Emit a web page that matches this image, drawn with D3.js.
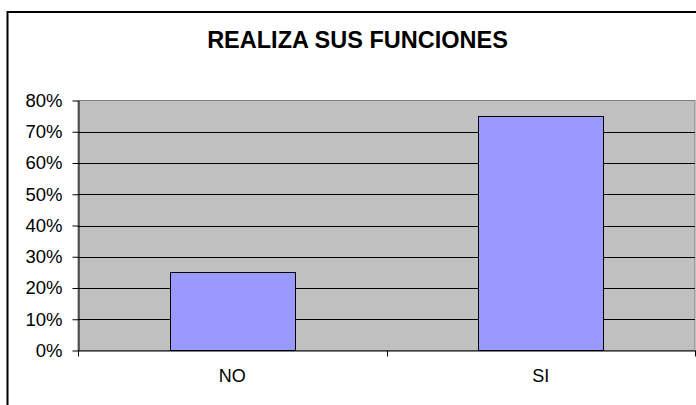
<!DOCTYPE html>
<html>
<head>
<meta charset="utf-8">
<script src="https://cdn.jsdelivr.net/npm/d3@7"></script>
<style>
  body { margin: 0; background: #fff; }
  svg { display: block; font-family: "Liberation Sans", Arial, sans-serif; }
</style>
</head>
<body>
<svg id="chart"></svg>
<script>
const categories = [ 'NO', 'SI' ];
const values = [ 0.25, 0.75 ];
const yticks = [ 0, 0.1, 0.2, 0.3, 0.4, 0.5, 0.6, 0.7, 0.8 ];
const title = 'REALIZA SUS FUNCIONES';

const width = 696, height = 405;
const margin = { top: 100.5, right: 1, bottom: 54.5, left: 78 };

const svg = d3.select( '#chart' )
    .attr( 'width', width )
    .attr( 'height', height );

// outer frame (runs off the right and bottom edges)
svg.append( 'rect' )
    .attr( 'x', 7.5 ).attr( 'y', 12 )
    .attr( 'width', width + 10 ).attr( 'height', height + 10 )
    .attr( 'fill', 'none' )
    .attr( 'stroke', '#000' )
    .attr( 'stroke-width', 2 );

svg.append( 'text' )
    .attr( 'x', 357.5 ).attr( 'y', 48 )
    .attr( 'text-anchor', 'middle' )
    .attr( 'font-size', 23.5 )
    .attr( 'font-weight', 'bold' )
    .text( title );

const x0 = margin.left, x1 = width - margin.right;
const y0 = height - margin.bottom, y1 = margin.top;

const xscale = d3.scaleBand()
    .domain( categories )
    .range( [ x0, x1 ] )
    .paddingInner( 0.595 )
    .paddingOuter( 0.2975 );

const yscale = d3.scaleLinear()
    .domain( [ 0, 0.8 ] )
    .range( [ y0, y1 ] );

// plot area
svg.append( 'rect' )
    .attr( 'x', x0 ).attr( 'y', y1 )
    .attr( 'width', x1 - x0 ).attr( 'height', y0 - y1 )
    .attr( 'fill', '#c0c0c0' )
    .attr( 'stroke', '#808080' )
    .attr( 'stroke-width', 1 );

// gridlines
svg.append( 'g' )
    .selectAll( 'line' )
    .data( yticks.filter( d => d > 0 && d < 0.8 ) )
    .join( 'line' )
    .attr( 'x1', x0 ).attr( 'x2', x1 )
    .attr( 'y1', d => Math.round( yscale( d ) ) + 0.5 )
    .attr( 'y2', d => Math.round( yscale( d ) ) + 0.5 )
    .attr( 'stroke', '#000' );

// bars
svg.append( 'g' )
    .selectAll( 'rect' )
    .data( categories )
    .join( 'rect' )
    .attr( 'x', d => Math.round( xscale( d ) ) + 0.5 )
    .attr( 'y', ( d, i ) => Math.round( yscale( values[i] ) ) + 0.5 )
    .attr( 'width', Math.round( xscale.bandwidth() ) )
    .attr( 'height', ( d, i ) => y0 - ( Math.round( yscale( values[i] ) ) + 0.5 ) )
    .attr( 'fill', '#9999ff' )
    .attr( 'stroke', '#000' )
    .attr( 'stroke-width', 1 );

// y axis
const yaxis = d3.axisLeft( yscale )
    .tickValues( yticks )
    .tickFormat( d3.format( '.0%' ) )
    .tickSize( 6 )
    .tickSizeOuter( 0 )
    .tickPadding( 10 );

const yg = svg.append( 'g' )
    .attr( 'transform', `translate(${x0 + 0.5}, 0)` )
    .call( yaxis );
yg.select( '.domain' ).attr( 'stroke', '#000' );
yg.selectAll( 'text' )
    .attr( 'font-size', 18.5 )
    .attr( 'font-family', '"Liberation Sans", Arial, sans-serif' )
    .attr( 'fill', '#000' );

// x axis: labels at band centres, ticks at band edges
const xaxis = d3.axisBottom( xscale )
    .tickSize( 0 )
    .tickSizeOuter( 0 )
    .tickPadding( 19 );

const xg = svg.append( 'g' )
    .attr( 'transform', `translate(0, ${y0})` )
    .call( xaxis );
xg.select( '.domain' )
    .attr( 'stroke', '#000' );
xg.selectAll( 'text' )
    .attr( 'font-size', 18 )
    .attr( 'font-family', '"Liberation Sans", Arial, sans-serif' )
    .attr( 'fill', '#000' );

const edges = [ x0 ].concat( categories.map( d => xscale( d ) + xscale.bandwidth() / 2 + xscale.step() / 2 ) );
xg.selectAll( '.edge' )
    .data( edges )
    .join( 'line' )
    .attr( 'class', 'edge' )
    .attr( 'x1', d => Math.round( d ) + 0.5 )
    .attr( 'x2', d => Math.round( d ) + 0.5 )
    .attr( 'y1', 0 ).attr( 'y2', 6 )
    .attr( 'stroke', '#000' );
</script>
</body>
</html>
